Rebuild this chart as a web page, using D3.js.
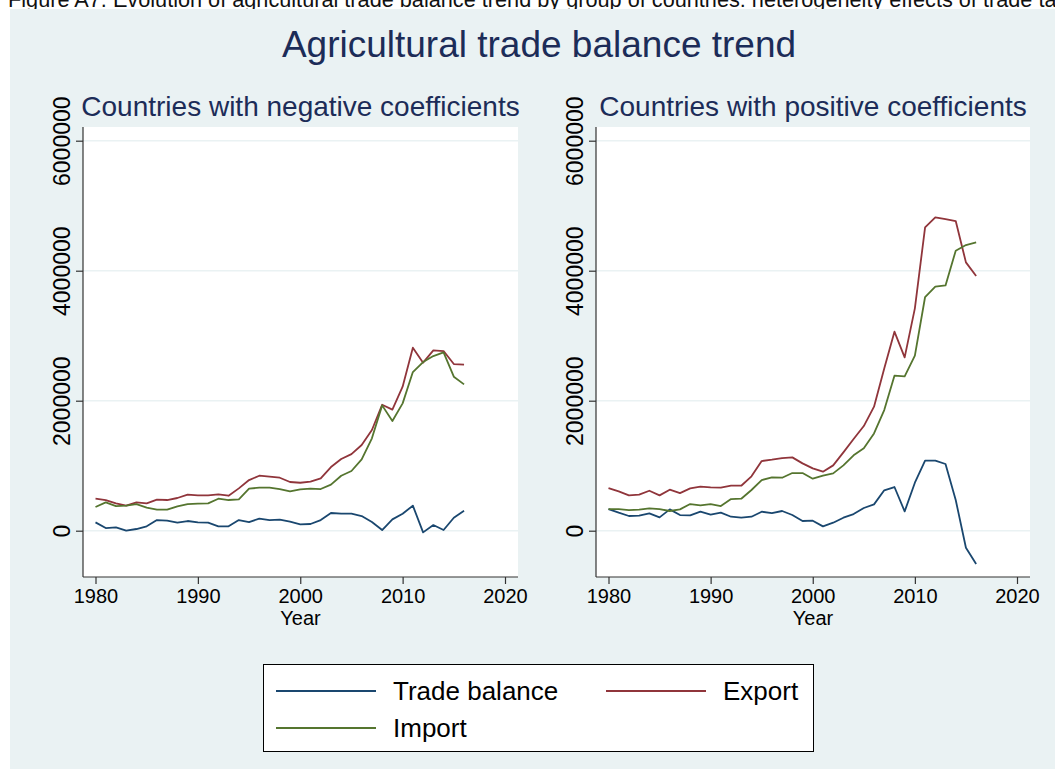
<!DOCTYPE html>
<html>
<head>
<meta charset="utf-8">
<script src="https://cdn.jsdelivr.net/npm/d3@7"></script>
<style>
  body { margin: 0; background: #fff; }
  svg { display: block; font-family: "Liberation Sans", Arial, sans-serif; }
</style>
</head>
<body>
<div id="chart"></div>
<script>
var years = [1980, 1981, 1982, 1983, 1984, 1985, 1986, 1987, 1988, 1989,
             1990, 1991, 1992, 1993, 1994, 1995, 1996, 1997, 1998, 1999,
             2000, 2001, 2002, 2003, 2004, 2005, 2006, 2007, 2008, 2009,
             2010, 2011, 2012, 2013, 2014, 2015, 2016];

// countries with negative coefficients
var negBalance = [128000, 41000, 51000, 0, 26000, 67000, 164000, 154000, 123000, 149000,
                  128000, 123000, 67000, 67000, 164000, 133000, 185000, 164000, 169000, 138000,
                  97000, 103000, 164000, 272000, 262000, 262000, 226000, 133000, 10000, 174000,
                  262000, 385000, -26000, 87000, 10000, 200000, 308000];
var negExport = [492000, 472000, 421000, 385000, 436000, 421000, 477000, 472000, 503000, 554000,
                 544000, 544000, 559000, 538000, 651000, 779000, 846000, 831000, 815000, 749000,
                 738000, 754000, 805000, 979000, 1103000, 1179000, 1318000, 1549000, 1938000, 1862000,
                 2215000, 2815000, 2585000, 2774000, 2764000, 2564000, 2554000];
var negImport = [364000, 436000, 379000, 385000, 410000, 354000, 323000, 323000, 374000, 410000,
                 415000, 421000, 492000, 472000, 482000, 646000, 662000, 662000, 641000, 605000,
                 636000, 646000, 641000, 708000, 846000, 918000, 1097000, 1421000, 1928000, 1687000,
                 1959000, 2441000, 2595000, 2687000, 2744000, 2369000, 2251000];

// countries with positive coefficients
var posBalance = [333000, 277000, 226000, 231000, 267000, 205000, 328000, 241000, 236000, 292000,
                  246000, 277000, 215000, 200000, 215000, 292000, 272000, 303000, 241000, 149000,
                  154000, 67000, 123000, 200000, 256000, 349000, 405000, 621000, 672000, 297000,
                  738000, 1077000, 1077000, 1026000, 472000, -262000, -513000];
var posExport = [656000, 605000, 544000, 554000, 615000, 544000, 631000, 579000, 651000, 677000,
                 667000, 662000, 692000, 692000, 836000, 1072000, 1092000, 1118000, 1128000, 1036000,
                 959000, 908000, 1005000, 1205000, 1410000, 1610000, 1908000, 2497000, 3062000, 2667000,
                 3421000, 4667000, 4821000, 4795000, 4764000, 4128000, 3918000];
var posImport = [333000, 333000, 318000, 323000, 344000, 333000, 303000, 328000, 410000, 390000,
                 410000, 379000, 487000, 492000, 626000, 779000, 821000, 815000, 887000, 887000,
                 800000, 846000, 882000, 1005000, 1159000, 1267000, 1497000, 1856000, 2385000, 2374000,
                 2692000, 3595000, 3754000, 3774000, 4308000, 4395000, 4436000];

var seriesNames = ['Trade balance', 'Export', 'Import'];
var seriesColors = ['#1a476f', '#90353b', '#55752f'];
var xTicks = [1980, 1990, 2000, 2010, 2020];
var yTicks = [0, 2000000, 4000000, 6000000];
var panelTitles = ['Countries with negative coefficients', 'Countries with positive coefficients'];
var mainTitle = 'Agricultural trade balance trend';
var xTitle = 'Year';
var caption = 'Figure A7. Evolution of agricultural trade balance trend by group of countries: heterogeneity effects of trade taxes';

var width = 1055, height = 769;
var bg = '#eaf2f3', titleColor = '#1c2c58', axisColor = '#333';
var plotTop = 127, plotBottom = 577;

var svg = d3.select('#chart').append('svg')
    .attr('width', width)
    .attr('height', height);

// caption of the page, mostly hidden behind the graph region
svg.append('text')
    .attr('x', 8)
    .attr('y', 7)
    .style('font-size', '21.7px')
    .style('fill', '#111')
    .text(caption);

svg.append('rect')
    .attr('x', 10).attr('y', 9)
    .attr('width', width - 10).attr('height', height - 9)
    .style('fill', bg);

svg.append('text')
    .attr('x', 539)
    .attr('y', 57)
    .attr('text-anchor', 'middle')
    .style('font-size', '37px')
    .style('fill', titleColor)
    .text(mainTitle);

var panels = [
    {left: 83, right: 518, title: panelTitles[0], series: [negBalance, negExport, negImport]},
    {left: 596, right: 1030, title: panelTitles[1], series: [posBalance, posExport, posImport]}
];

drawPanel = function(p) {
    var xScale = d3.scaleLinear().domain([1980, 2020]).range([p.left + 12.5, p.right - 13]);
    var yScale = d3.scaleLinear().domain([0, 6000000]).range([plotBottom - 46.3, plotTop + 13.7]);
    var g = svg.append('g');

    g.append('rect')
        .attr('x', p.left).attr('y', plotTop)
        .attr('width', p.right - p.left).attr('height', plotBottom - plotTop)
        .style('fill', '#fff');

    // gridlines
    g.selectAll('.grid')
        .data(yTicks)
        .join('line')
        .attr('class', 'grid')
        .attr('x1', p.left).attr('x2', p.right)
        .attr('y1', d => yScale(d)).attr('y2', d => yScale(d))
        .style('stroke', bg)
        .style('stroke-width', 1.5);

    var lineGen = d3.line()
        .x((d, i) => xScale(years[i]))
        .y(d => yScale(d));

    g.selectAll('.series')
        .data(p.series)
        .join('path')
        .attr('class', 'series')
        .attr('d', lineGen)
        .style('fill', 'none')
        .style('stroke', (d, i) => seriesColors[i])
        .style('stroke-width', 1.8)
        .style('stroke-linejoin', 'round');

    // axes
    var xAxis = d3.axisBottom(xScale).tickValues(xTicks).tickSize(7).tickPadding(5).tickFormat(d3.format('d'));
    var yAxis = d3.axisLeft(yScale).tickValues(yTicks).tickSize(7).tickFormat(d3.format('d'));

    var gx = g.append('g').attr('transform', 'translate(0,' + plotBottom + ')').call(xAxis);
    var gy = g.append('g').attr('transform', 'translate(' + p.left + ',0)').call(yAxis);
    [gx, gy].forEach(a => {
        a.select('.domain').remove();
        a.selectAll('line').style('stroke', axisColor).style('stroke-width', 1.2);
        a.selectAll('text').style('font-size', '20px').style('fill', '#000').style('font-family', null);
    });
    gy.selectAll('text')
        .attr('x', 0)
        .attr('y', -13)
        .attr('dy', null)
        .attr('text-anchor', 'middle')
        .attr('transform', 'rotate(-90)')
        .style('font-size', '23px');

    g.append('line')
        .attr('x1', p.left).attr('x2', p.left)
        .attr('y1', plotTop).attr('y2', plotBottom)
        .style('stroke', axisColor).style('stroke-width', 1.2);
    g.append('line')
        .attr('x1', p.left).attr('x2', p.right)
        .attr('y1', plotBottom).attr('y2', plotBottom)
        .style('stroke', axisColor).style('stroke-width', 1.2);

    g.append('text')
        .attr('x', (p.left + p.right) / 2)
        .attr('y', 625)
        .attr('text-anchor', 'middle')
        .style('font-size', '20px')
        .text(xTitle);

    g.append('text')
        .attr('x', (p.left + p.right) / 2)
        .attr('y', 116)
        .attr('text-anchor', 'middle')
        .style('font-size', '28px')
        .style('fill', titleColor)
        .text(p.title);
}

panels.forEach(drawPanel);

// legend
var legendPos = [{x: 276, y: 691}, {x: 606, y: 691}, {x: 276, y: 728}];
var legend = svg.append('g');
legend.append('rect')
    .attr('x', 263.5).attr('y', 664.5)
    .attr('width', 550).attr('height', 87)
    .style('fill', '#fff')
    .style('stroke', '#000')
    .style('stroke-width', 1);
var items = legend.selectAll('.item')
    .data(seriesNames)
    .join('g')
    .attr('class', 'item')
    .attr('transform', (d, i) => 'translate(' + legendPos[i].x + ',' + legendPos[i].y + ')');
items.append('line')
    .attr('x1', 0).attr('x2', 100)
    .style('stroke', (d, i) => seriesColors[i])
    .style('stroke-width', 2);
items.append('text')
    .attr('x', 117)
    .attr('dy', '0.36em')
    .style('font-size', '26px')
    .text(d => d);
</script>
</body>
</html>
